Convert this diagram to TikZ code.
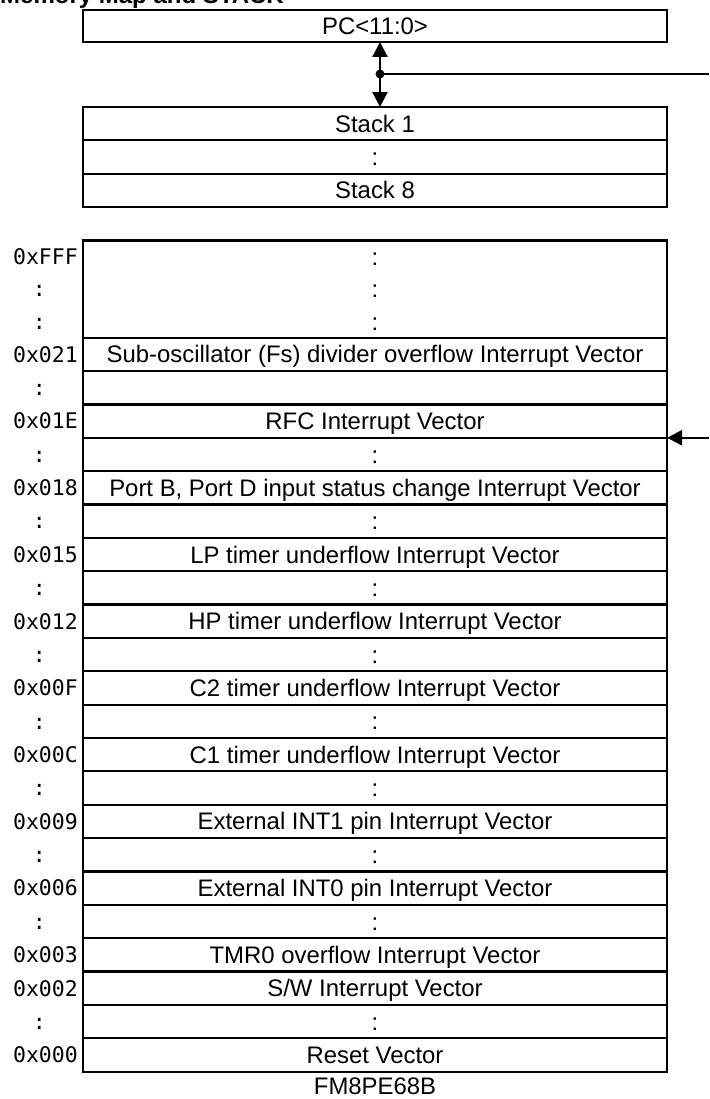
\documentclass[tikz,border=0pt]{standalone}
\usepackage{fontspec}
\setmainfont{Liberation Sans}
\newfontfamily\addrfont{DejaVu Sans Mono}
\usetikzlibrary{positioning}
\usetikzlibrary{arrows.meta}

\begin{document}
\begin{tikzpicture}[
        x=1pt, y=-1pt,
        >={Triangle[length=15pt,width=15pt]},
        node distance=0pt,
        memrow/.style={rectangle, draw=black, line width=2.2pt, minimum width=584pt, minimum height=33.36pt, inner sep=0pt, outer sep=0pt, text height=17.1pt, text depth=0pt, font=\fontsize{23.9}{28}\selectfont},
        toprow/.style={memrow, draw=none, minimum height=32.4pt},
        addrlabel/.style={inner sep=0pt, text height=15.6pt, text depth=0pt, font=\addrfont\fontsize{21.5}{24}\selectfont},
        bus/.style={line width=2.2pt}
    ]

        \useasboundingbox (0,0) rectangle (709,1099);
        \clip (0,0) rectangle (709,1099);

        \node [anchor=base west, inner sep=0pt, font=\bfseries\fontsize{24}{28}\selectfont] (Title) at (0,3.5) {Memory Map and STACK};

        % Program counter and stack
        \node [memrow, minimum height=32pt] (Pc) at (375,26) {PC<11:0>};
        \node [memrow] (Stack1) at (375,123.7) {Stack 1};
        \node [memrow] (StackDots) [below=of Stack1] {:};
        \node [memrow] (Stack8) [below=of StackDots] {Stack 8};

        \coordinate (Jct) at (380,74);
        \coordinate (JctOut) at (709,74);
        \draw [<->, bus] (Pc.south -| Jct) -- (Stack1.north -| Jct);
        \draw [bus] (Jct) -- (JctOut);
        \fill (Jct) circle (4.5pt);

        % Program memory
        \node [toprow] (Top1) at (375,256.7) {:};
        \node [toprow] (Top2) [below=of Top1] {:};
        \node [toprow] (Top3) [below=of Top2] {:};
        \draw [bus] (Top1.north west) rectangle (Top3.south east);

        \node [memrow] (Vec021) [below=of Top3] {Sub-oscillator (Fs) divider overflow Interrupt Vector};
        \node [memrow] (Gap020) [below=of Vec021] {};
        \node [memrow] (Vec01E) [below=of Gap020] {RFC Interrupt Vector};
        \node [memrow] (Gap01D) [below=of Vec01E] {:};
        \node [memrow] (Vec018) [below=of Gap01D] {Port B, Port D input status change Interrupt Vector};
        \node [memrow] (Gap017) [below=of Vec018] {:};
        \node [memrow] (Vec015) [below=of Gap017] {LP timer underflow Interrupt Vector};
        \node [memrow] (Gap014) [below=of Vec015] {:};
        \node [memrow] (Vec012) [below=of Gap014] {HP timer underflow Interrupt Vector};
        \node [memrow] (Gap011) [below=of Vec012] {:};
        \node [memrow] (Vec00F) [below=of Gap011] {C2 timer underflow Interrupt Vector};
        \node [memrow] (Gap00E) [below=of Vec00F] {:};
        \node [memrow] (Vec00C) [below=of Gap00E] {C1 timer underflow Interrupt Vector};
        \node [memrow] (Gap00B) [below=of Vec00C] {:};
        \node [memrow] (Vec009) [below=of Gap00B] {External INT1 pin Interrupt Vector};
        \node [memrow] (Gap008) [below=of Vec009] {:};
        \node [memrow] (Vec006) [below=of Gap008] {External INT0 pin Interrupt Vector};
        \node [memrow] (Gap005) [below=of Vec006] {:};
        \node [memrow] (Vec003) [below=of Gap005] {TMR0 overflow Interrupt Vector};
        \node [memrow] (Vec002) [below=of Vec003] {S/W Interrupt Vector};
        \node [memrow] (Gap001) [below=of Vec002] {:};
        \node [memrow] (Vec000) [below=of Gap001] {Reset Vector};

        \node [inner sep=0pt, font=\fontsize{23.9}{28}\selectfont] (Chip) [below=6pt of Vec000] {FM8PE68B};

        % Addresses
        \node [addrlabel, left=5pt of Top1] {0xFFF};
        \node [addrlabel, left=37pt of Top2] {:};
        \node [addrlabel, left=37pt of Top3] {:};
        \node [addrlabel, left=5pt of Vec021] {0x021};
        \node [addrlabel, left=37pt of Gap020] {:};
        \node [addrlabel, left=5pt of Vec01E] {0x01E};
        \node [addrlabel, left=37pt of Gap01D] {:};
        \node [addrlabel, left=5pt of Vec018] {0x018};
        \node [addrlabel, left=37pt of Gap017] {:};
        \node [addrlabel, left=5pt of Vec015] {0x015};
        \node [addrlabel, left=37pt of Gap014] {:};
        \node [addrlabel, left=5pt of Vec012] {0x012};
        \node [addrlabel, left=37pt of Gap011] {:};
        \node [addrlabel, left=5pt of Vec00F] {0x00F};
        \node [addrlabel, left=37pt of Gap00E] {:};
        \node [addrlabel, left=5pt of Vec00C] {0x00C};
        \node [addrlabel, left=37pt of Gap00B] {:};
        \node [addrlabel, left=5pt of Vec009] {0x009};
        \node [addrlabel, left=37pt of Gap008] {:};
        \node [addrlabel, left=5pt of Vec006] {0x006};
        \node [addrlabel, left=37pt of Gap005] {:};
        \node [addrlabel, left=5pt of Vec003] {0x003};
        \node [addrlabel, left=5pt of Vec002] {0x002};
        \node [addrlabel, left=37pt of Gap001] {:};
        \node [addrlabel, left=5pt of Vec000] {0x000};

        % Incoming vector address
        \draw [->, bus] (Vec01E.south east -| JctOut) -- (Vec01E.south east);

    \end{tikzpicture}
\end{document}
